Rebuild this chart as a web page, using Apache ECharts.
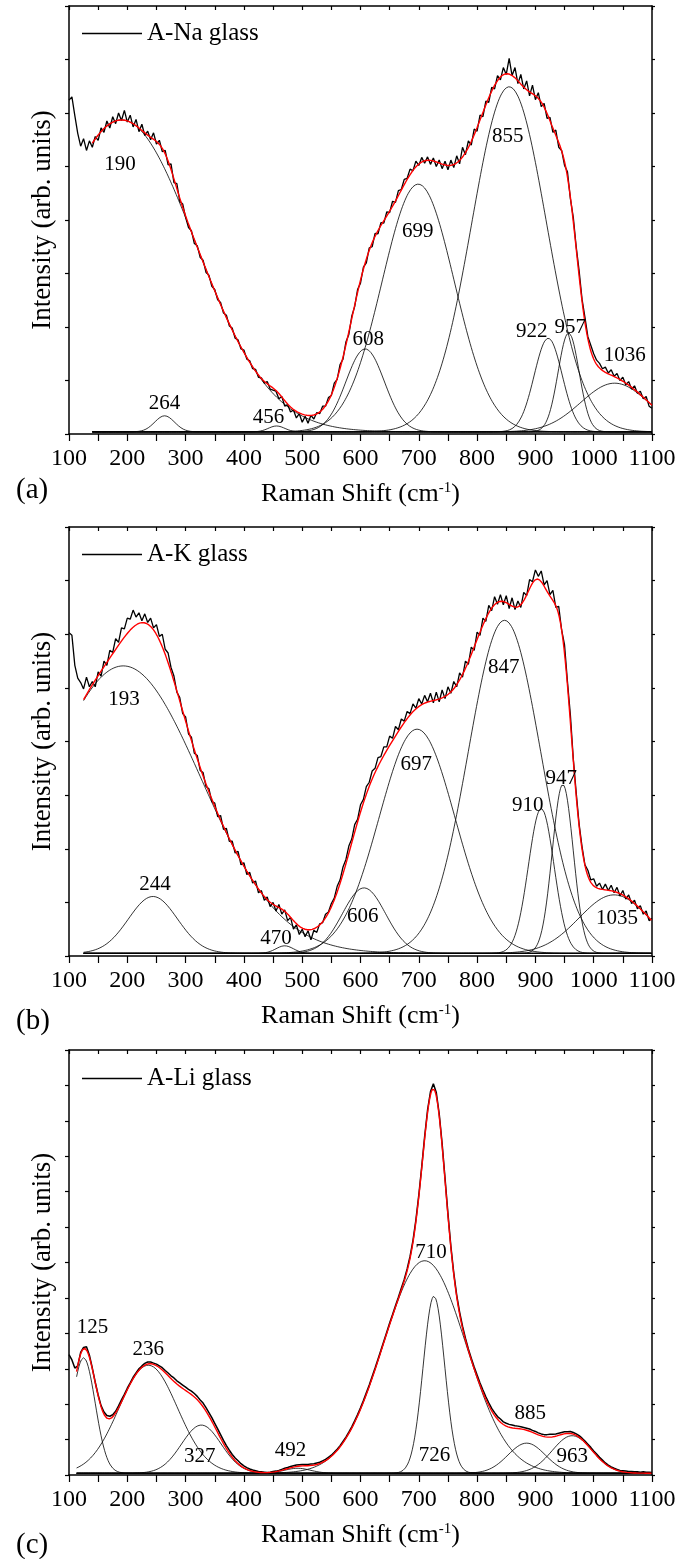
<!DOCTYPE html>
<html>
<head>
<meta charset="utf-8">
<script src="https://cdn.jsdelivr.net/npm/echarts@6/dist/echarts.min.js"></script>
<style>
  html, body { margin: 0; padding: 0; background: #fff; }
  #chart { width: 693px; height: 1559px; }
</style>
</head>
<body>
<div id="chart"></div>
<script>
// Raman spectra of three alkali glasses with their Gaussian band deconvolution.

// Measured spectra, sampled every 5 cm-1 from 100 to 1100 cm-1 (arb. units)
const spectrumStart = 100;
const spectrumStep = 5;

const naSpectrum = [
  6.24, 6.30, 5.95, 5.62, 5.38, 5.52, 5.30, 5.48, 5.36, 5.56,
  5.49, 5.72, 5.64, 5.85, 5.72, 5.93, 5.80, 6.00, 5.86, 6.05,
  5.83, 5.96, 5.74, 5.88, 5.65, 5.79, 5.58, 5.66, 5.50, 5.63,
  5.42, 5.49, 5.28, 5.30, 5.03, 5.05, 4.70, 4.68, 4.35, 4.30,
  4.05, 3.86, 3.80, 3.56, 3.52, 3.30, 3.25, 3.02, 2.97, 2.76,
  2.70, 2.51, 2.46, 2.26, 2.22, 2.02, 1.98, 1.79, 1.76, 1.59,
  1.57, 1.40, 1.37, 1.22, 1.21, 1.06, 1.05, 0.95, 0.98, 0.84,
  0.82, 0.80, 0.66, 0.70, 0.52, 0.55, 0.41, 0.45, 0.30, 0.38,
  0.22, 0.33, 0.20, 0.35, 0.28, 0.40, 0.38, 0.52, 0.52, 0.68,
  0.72, 0.95, 1.02, 1.30, 1.40, 1.72, 1.86, 2.20, 2.38, 2.70,
  2.82, 3.12, 3.20, 3.48, 3.50, 3.75, 3.74, 3.95, 3.94, 4.15,
  4.14, 4.35, 4.33, 4.55, 4.57, 4.76, 4.78, 4.95, 4.92, 5.10,
  5.02, 5.17, 5.06, 5.18, 5.04, 5.16, 5.00, 5.12, 4.96, 5.10,
  4.94, 5.12, 4.98, 5.20, 5.05, 5.36, 5.22, 5.48, 5.40, 5.70,
  5.66, 5.96, 5.93, 6.22, 6.20, 6.48, 6.45, 6.70, 6.62, 6.85,
  6.72, 7.02, 6.70, 6.85, 6.55, 6.72, 6.45, 6.60, 6.32, 6.52,
  6.25, 6.38, 6.12, 6.18, 5.90, 5.92, 5.64, 5.68, 5.36, 5.30,
  5.02, 4.90, 4.40, 4.05, 3.50, 3.05, 2.52, 2.18, 1.82, 1.66,
  1.50, 1.38, 1.32, 1.22, 1.25, 1.14, 1.20, 1.08, 1.13, 1.00,
  1.06, 0.92, 0.98, 0.84, 0.90, 0.76, 0.80, 0.66, 0.70, 0.52,
  0.48
];

const kSpectrum = [
  6.03, 5.98, 5.42, 5.18, 5.10, 4.98, 5.20, 5.02, 5.12, 5.02,
  5.30, 5.22, 5.50, 5.42, 5.70, 5.66, 5.92, 5.85, 6.12, 6.10,
  6.30, 6.28, 6.45, 6.32, 6.40, 6.25, 6.38, 6.22, 6.30, 6.12,
  6.18, 5.96, 6.00, 5.72, 5.65, 5.38, 5.22, 4.92, 4.82, 4.52,
  4.46, 4.14, 4.08, 3.78, 3.74, 3.46, 3.42, 3.16, 3.12, 2.88,
  2.85, 2.60, 2.62, 2.36, 2.38, 2.14, 2.14, 1.92, 1.95, 1.70,
  1.74, 1.52, 1.56, 1.36, 1.40, 1.18, 1.22, 1.04, 1.10, 0.92,
  1.00, 0.84, 0.96, 0.78, 0.86, 0.66, 0.72, 0.50, 0.58, 0.40,
  0.50, 0.36, 0.47, 0.30, 0.48, 0.44, 0.60, 0.62, 0.78, 0.82,
  0.98, 1.08, 1.30, 1.42, 1.66, 1.80, 2.05, 2.18, 2.45, 2.55,
  2.82, 2.92, 3.16, 3.24, 3.45, 3.50, 3.70, 3.72, 3.90, 3.90,
  4.10, 4.06, 4.28, 4.22, 4.42, 4.38, 4.56, 4.52, 4.70, 4.62,
  4.80, 4.70, 4.86, 4.74, 4.90, 4.72, 4.92, 4.74, 4.96, 4.80,
  5.02, 4.90, 5.12, 5.02, 5.28, 5.20, 5.50, 5.44, 5.76, 5.70,
  6.04, 5.98, 6.30, 6.24, 6.54, 6.44, 6.70, 6.56, 6.74, 6.55,
  6.72, 6.48, 6.68, 6.46, 6.62, 6.50, 6.78, 6.72, 7.02, 6.98,
  7.20, 7.08, 7.18, 6.92, 7.00, 6.74, 6.82, 6.50, 6.52, 6.08,
  5.80, 5.12, 4.50, 3.68, 3.05, 2.46, 2.04, 1.70, 1.60, 1.42,
  1.44, 1.30, 1.36, 1.24, 1.34, 1.22, 1.32, 1.18, 1.28, 1.12,
  1.22, 1.06, 1.14, 0.98, 1.04, 0.88, 0.94, 0.78, 0.84, 0.66,
  0.70
];

const liSpectrum = [
  3.40, 3.25, 3.02, 3.08, 3.46, 3.60, 3.62, 3.38, 3.02, 2.62,
  2.26, 1.96, 1.78, 1.68, 1.66, 1.70, 1.80, 1.95, 2.12, 2.28,
  2.45, 2.60, 2.76, 2.88, 3.00, 3.08, 3.15, 3.19, 3.19, 3.16,
  3.13, 3.08, 3.03, 2.95, 2.88, 2.80, 2.74, 2.66, 2.60, 2.54,
  2.48, 2.42, 2.37, 2.30, 2.22, 2.12, 2.03, 1.90, 1.76, 1.62,
  1.46, 1.30, 1.14, 0.98, 0.83, 0.70, 0.58, 0.48, 0.40, 0.32,
  0.26, 0.21, 0.17, 0.14, 0.12, 0.10, 0.09, 0.08, 0.07, 0.08,
  0.10, 0.11, 0.13, 0.16, 0.19, 0.21, 0.24, 0.26, 0.28, 0.29,
  0.30, 0.30, 0.30, 0.31, 0.32, 0.34, 0.36, 0.40, 0.44, 0.50,
  0.56, 0.64, 0.73, 0.83, 0.95, 1.07, 1.21, 1.36, 1.53, 1.71,
  1.90, 2.10, 2.32, 2.54, 2.78, 3.02, 3.27, 3.52, 3.78, 4.03,
  4.29, 4.53, 4.78, 5.02, 5.27, 5.52, 5.82, 6.17, 6.62, 7.20,
  7.90, 8.70, 9.55, 10.30, 10.82, 11.05, 10.80, 10.20, 9.36, 8.38,
  7.38, 6.46, 5.70, 5.08, 4.60, 4.20, 3.86, 3.56, 3.30, 3.05,
  2.82, 2.60, 2.40, 2.21, 2.04, 1.88, 1.76, 1.65, 1.58, 1.50,
  1.46, 1.43, 1.41, 1.39, 1.38, 1.36, 1.34, 1.32, 1.30, 1.26,
  1.23, 1.19, 1.16, 1.14, 1.14, 1.15, 1.15, 1.16, 1.18, 1.20,
  1.22, 1.22, 1.23, 1.20, 1.16, 1.11, 1.04, 0.96, 0.87, 0.78,
  0.68, 0.59, 0.50, 0.42, 0.34, 0.28, 0.23, 0.19, 0.16, 0.13,
  0.12, 0.11, 0.10, 0.10, 0.09, 0.09, 0.08, 0.09, 0.08, 0.08,
  0.07
];

// Fitted Gaussian bands: position (cm-1), height and sigma (cm-1)
const naBandCenters = [190, 264, 456, 608, 699, 855, 922, 957, 1036];
const naBandHeights = [5.83, 0.30, 0.11, 1.55, 4.63, 6.45, 1.75, 1.85, 0.91];
const naBandWidths  = [127, 17, 14, 33, 62, 64, 24, 18, 58];
const naBaseline = 0.04;
const naFitFrom = 140;

const kBandCenters = [193, 244, 470, 606, 697, 847, 910, 947, 1035];
const kBandHeights = [5.36, 1.06, 0.14, 1.22, 4.18, 6.21, 2.70, 3.15, 1.09];
const kBandWidths  = [134, 42, 15, 37, 65, 62, 22, 18, 60];
const kBaseline = 0.05;
const kFitFrom = 125;

const liBandCenters = [125, 236, 327, 492, 710, 726, 885, 963];
const liBandHeights = [3.26, 3.05, 1.36, 0.14, 6.00, 5.00, 0.85, 1.06];
const liBandWidths  = [20, 50, 34, 22, 71, 18.5, 32, 34];
const liBaseline = 0.05;
const liFitFrom = 113;

// Where each band label sits relative to its band maximum, in pixels
const naLabelOffsets = [[-1.5, 45], [0, -12], [-8, -8], [3, -9], [-0.5, 47.5], [-1.5, 50], [-16.5, -6.5], [1.5, -5], [10, -28]];
const kLabelOffsets  = [[0.7, 34], [2, -11.5], [-8.7, -7.5], [-1.3, 29], [-0.8, 35], [-0.8, 47], [-13.4, -2.8], [-1.6, -6], [3, 24]];
const liLabelOffsets = [[9, -30], [0, -16], [-1.5, 31], [-7, -18], [6.4, -8.5], [0.6, 159], [3.6, -30], [0, 21]];

const panels = [
  { key: 'na', legend: 'A-Na glass', tag: '(a)', spectrum: naSpectrum, centers: naBandCenters, heights: naBandHeights,
    widths: naBandWidths, baseline: naBaseline, fitFrom: naFitFrom, labelOffsets: naLabelOffsets, yMax: 8 },
  { key: 'k', legend: 'A-K glass', tag: '(b)', spectrum: kSpectrum, centers: kBandCenters, heights: kBandHeights,
    widths: kBandWidths, baseline: kBaseline, fitFrom: kFitFrom, labelOffsets: kLabelOffsets, yMax: 8 },
  { key: 'li', legend: 'A-Li glass', tag: '(c)', spectrum: liSpectrum, centers: liBandCenters, heights: liBandHeights,
    widths: liBandWidths, baseline: liBaseline, fitFrom: liFitFrom, labelOffsets: liLabelOffsets, yMax: 12 }
];

// Page layout of the three stacked plots
const layout = [
  { top: 6,    height: 428, legendTop: 16,   tagTop: 476,  spectrumWidth: 1.3 },
  { top: 527,  height: 429, legendTop: 537,  tagTop: 1007, spectrumWidth: 1.3 },
  { top: 1050, height: 425, legendTop: 1061, tagTop: 1531, spectrumWidth: 1.5 }
];

const SERIF = 'Liberation Serif';
const INK = '#000';
const FIT_RED = '#ff0000';
const X_MIN = 100, X_MAX = 1100;

function gaussian(x, center, height, sigma) {
  return height * Math.exp(-((x - center) * (x - center)) / (2 * sigma * sigma));
}

function bandCurve(p, k) {
  const pts = [];
  for (let x = p.fitFrom; x <= X_MAX; x += 2) {
    pts.push([x, p.baseline + gaussian(x, p.centers[k], p.heights[k], p.widths[k])]);
  }
  return pts;
}

function fitCurve(p) {
  const pts = [];
  for (let x = p.fitFrom; x <= X_MAX; x += 2) {
    let y = p.baseline;
    for (let k = 0; k < p.centers.length; k++) y += gaussian(x, p.centers[k], p.heights[k], p.widths[k]);
    pts.push([x, y]);
  }
  return pts;
}

const grids = [], xAxes = [], yAxes = [], series = [], legends = [], graphics = [];
const tickLine = { color: INK, width: 1.2 };

layout.forEach((l) => {
  grids.push({ left: 69, width: 583, top: l.top, height: l.height, containLabel: false });
});

// bottom x axes
panels.forEach((p, i) => {
  xAxes.push({
    gridIndex: i, type: 'value', position: 'bottom', min: X_MIN, max: X_MAX, interval: 100,
    name: '{t|Raman Shift (cm}{s|-1}{t|)}', nameLocation: 'middle', nameGap: 47,
    nameTextStyle: {
      rich: {
        t: { fontFamily: SERIF, fontSize: 26, color: INK },
        s: { fontFamily: SERIF, fontSize: 15, color: INK, verticalAlign: 'top' }
      }
    },
    axisLine: { onZero: false, lineStyle: { color: INK, width: 1.5 } },
    axisTick: { length: 7, lineStyle: tickLine },
    minorTick: { show: true, splitNumber: 2, length: 7, lineStyle: tickLine },
    axisLabel: { color: INK, fontFamily: SERIF, fontSize: 24, margin: 13, formatter: (v) => String(v) },
    splitLine: { show: false }, minorSplitLine: { show: false }
  });
});
// top x axes (frame)
panels.forEach((p, i) => {
  xAxes.push({
    gridIndex: i, type: 'value', position: 'top', min: X_MIN, max: X_MAX, interval: 100,
    axisLine: { onZero: false, lineStyle: { color: INK, width: 1.5 } },
    axisTick: { inside: true, length: 4, lineStyle: tickLine },
    minorTick: { show: true, splitNumber: 2, length: 4, lineStyle: tickLine },
    axisLabel: { show: false }, splitLine: { show: false }
  });
});
// left y axes
panels.forEach((p, i) => {
  yAxes.push({
    gridIndex: i, type: 'value', position: 'left', min: 0, max: p.yMax, interval: 1,
    name: 'Intensity (arb. units)', nameLocation: 'middle', nameGap: 13,
    nameTextStyle: { fontFamily: SERIF, fontSize: 27, color: INK },
    axisLine: { onZero: false, lineStyle: { color: INK, width: 1.5 } },
    axisTick: { length: 4, lineStyle: tickLine },
    axisLabel: { show: false }, splitLine: { show: false }
  });
});
// right y axes (frame)
panels.forEach((p, i) => {
  yAxes.push({
    gridIndex: i, type: 'value', position: 'right', min: 0, max: p.yMax, interval: 1,
    axisLine: { onZero: false, lineStyle: { color: INK, width: 1.5 } },
    axisTick: { length: 3, lineStyle: tickLine },
    axisLabel: { show: false }, splitLine: { show: false }
  });
});

panels.forEach((p, i) => {
  // individual bands
  p.centers.forEach((c, k) => {
    series.push({
      name: p.key + '-band-' + c, type: 'line', xAxisIndex: i, yAxisIndex: i,
      data: bandCurve(p, k), showSymbol: false, silent: true, z: 2,
      lineStyle: { color: INK, width: 0.8 }
    });
  });
  // measured spectrum
  series.push({
    name: p.legend, type: 'line', xAxisIndex: i, yAxisIndex: i,
    data: p.spectrum.map((v, j) => [spectrumStart + j * spectrumStep, v]),
    showSymbol: false, silent: true, z: 3,
    itemStyle: { color: INK },
    lineStyle: { color: INK, width: layout[i].spectrumWidth }
  });
  // cumulative fit
  series.push({
    name: p.key + '-fit', type: 'line', xAxisIndex: i, yAxisIndex: i,
    data: fitCurve(p), showSymbol: false, silent: true, z: 4,
    lineStyle: { color: FIT_RED, width: 1.4 }
  });
  // band position labels
  series.push({
    name: p.key + '-labels', type: 'scatter', xAxisIndex: i, yAxisIndex: i, z: 5, silent: true,
    symbolSize: 1, itemStyle: { color: 'rgba(0,0,0,0)', opacity: 1 },
    label: {
      show: true, position: 'inside', formatter: '{b}',
      fontFamily: SERIF, fontSize: 21, color: INK, opacity: 1, textBorderWidth: 0
    },
    data: p.centers.map((c, k) => ({
      name: String(c),
      value: [c, p.baseline + p.heights[k]],
      label: { offset: p.labelOffsets[k] }
    }))
  });

  legends.push({
    data: [p.legend], left: 77, top: layout[i].legendTop, orient: 'horizontal',
    icon: 'rect', itemWidth: 60, itemHeight: 1.5, selectedMode: false,
    textStyle: { fontFamily: SERIF, fontSize: 25, color: INK }
  });

  graphics.push({
    type: 'text', left: 16, top: layout[i].tagTop,
    style: { text: p.tag, font: '29px "Liberation Serif"', fill: INK }
  });
});

const chart = echarts.init(document.getElementById('chart'), null, { renderer: 'canvas', width: 693, height: 1559 });
chart.setOption({
  animation: false,
  backgroundColor: '#fff',
  grid: grids,
  xAxis: xAxes,
  yAxis: yAxes,
  legend: legends,
  graphic: graphics,
  series: series
});
</script>
</body>
</html>
